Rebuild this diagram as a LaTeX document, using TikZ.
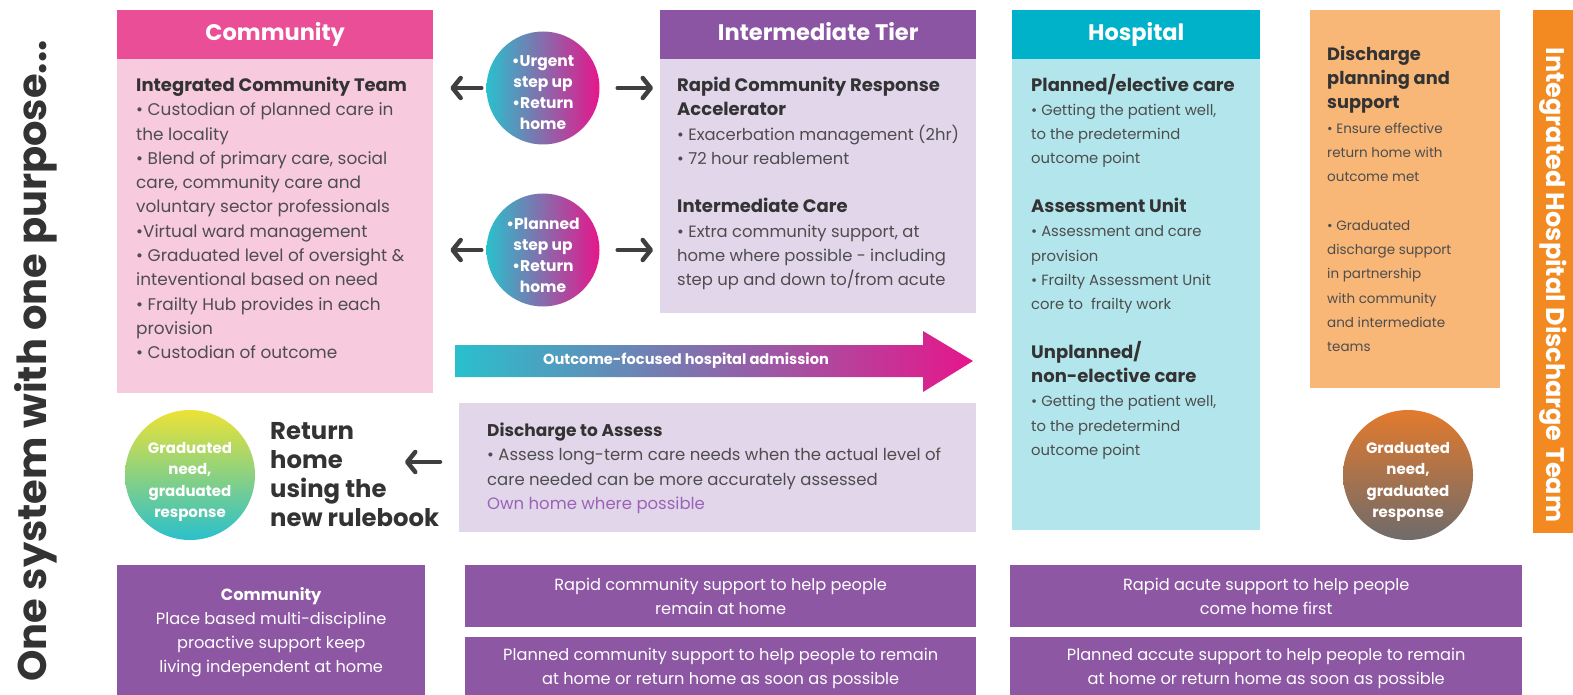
\documentclass[tikz,border=0pt]{standalone}
\usepackage{fontspec}
\setmainfont{Poppins}
\usetikzlibrary{arrows.meta}
\definecolor{pinkH}{HTML}{EA4E96}
\definecolor{pinkB}{HTML}{F7CADD}
\definecolor{purpH}{HTML}{8C55A3}
\definecolor{lavB}{HTML}{E2D6EA}
\definecolor{tealH}{HTML}{00B1CA}
\definecolor{cyanB}{HTML}{B2E6EC}
\definecolor{orangeB}{HTML}{F8B677}
\definecolor{orangeBar}{HTML}{F28A21}
\definecolor{purpBot}{HTML}{8D57A4}
\definecolor{tealG}{HTML}{29C0CC}
\definecolor{magG}{HTML}{E6168B}
\definecolor{yelG}{HTML}{EDE236}
\definecolor{orgG}{HTML}{E37A2D}
\definecolor{midG}{HTML}{A4544B}
\definecolor{grayG}{HTML}{6E6B6B}
\definecolor{txtG}{HTML}{4D4D4D}
\definecolor{txtD}{HTML}{333333}
\definecolor{ownP}{HTML}{9A63B8}
\definecolor{arrowC}{HTML}{3F3F3F}
\newcommand{\tbox}[3]{\parbox[t]{#1}{\raggedright\fontsize{#2}{24.3}\selectfont #3}}
\newcommand{\hd}[1]{{\fontsize{18}{24.3}\selectfont\bfseries\color{txtD}#1}}
\newcommand{\hds}[1]{{\fontsize{17.8}{24.5}\selectfont\bfseries\color{txtD}#1}}
\begin{document}
\begin{tikzpicture}[x=1pt,y=-1pt,
  box/.style={rectangle, anchor=north west, inner sep=0pt, draw=none},
  hdr/.style={box, text=white, text height=16pt, text depth=4pt, font=\fontsize{22.5}{24}\selectfont\bfseries},
  txt/.style={anchor=base west, inner sep=0pt, text=txtG},
  circ/.style={circle, inner sep=0pt},
  ctext/.style={inner sep=0pt, text=white, align=center, font=\fontsize{15.5}{21}\selectfont\bfseries},
  gtext/.style={inner sep=0pt, text=white, align=center, font=\fontsize{15}{21.5}\selectfont\bfseries},
  bot/.style={box, fill=purpBot, text=white, align=center, font=\fontsize{16.2}{24}\selectfont},
  arr/.style={draw=arrowC, line width=4.5pt, line cap=round, line join=round,
    -{Straight Barb[length=8pt,width=20pt,round]}}]
\useasboundingbox (0,0) rectangle (1573,695);

% left title
\node[rotate=90, inner sep=0pt, text=txtD, font=\fontsize{40}{40}\selectfont\bfseries] (title) at (36,361) {One system with one purpose...};

% Community
\node[box, fill=pinkB, minimum width=316pt, minimum height=383pt] (comm) at (117,10) {};
\node[hdr, fill=pinkH, minimum width=316pt, minimum height=49pt] (commh) at (117,10) {Community};
\node[txt] (commt) at (136,77) {\tbox{292pt}{16.9}{\hd{Integrated Community Team}\\
• Custodian of planned care in\\
the locality\\
• Blend of primary care, social\\
care, community care and\\
voluntary sector professionals\\
•Virtual ward management\\
• Graduated level of oversight \&\\
inteventional based on need\\
• Frailty Hub provides in each\\
provision\\
• Custodian of outcome}};

% Intermediate tier
\node[box, fill=lavB, minimum width=316pt, minimum height=303pt] (inter) at (660,10) {};
\node[hdr, fill=purpH, minimum width=316pt, minimum height=49pt] (interh) at (660,10) {Intermediate Tier};
\node[txt] (intert) at (677,77) {\tbox{296pt}{16.4}{\hd{Rapid Community Response}\\
\hd{Accelerator}\\
• Exacerbation management (2hr)\\
• 72 hour reablement\\[24.3pt]
\hd{Intermediate Care}\\
• Extra community support, at\\
home where possible - including\\
step up and down to/from acute}};

% Hospital
\node[box, fill=cyanB, minimum width=248pt, minimum height=520pt] (hosp) at (1012,10) {};
\node[hdr, fill=tealH, minimum width=248pt, minimum height=49pt] (hosph) at (1012,10) {Hospital};
\node[txt] (hospt) at (1031,74) {\tbox{226pt}{14.8}{\hd{Planned/elective care}\\
• Getting the patient well,\\
to the predetermind\\
outcome point\\[24.3pt]
\hd{Assessment Unit}\\
• Assessment and care\\
provision\\
• Frailty Assessment Unit\\
core to\ \ frailty work\\[24.3pt]
\hd{Unplanned/}\\
\hd{non-elective care}\\
• Getting the patient well,\\
to the predetermind\\
outcome point}};

% Discharge planning
\node[box, fill=orangeB, minimum width=190pt, minimum height=378pt] (dplan) at (1310,10) {};
\node[txt] (dplant) at (1327,46) {\tbox{172pt}{13.5}{\hds{Discharge}\\
\hds{planning and}\\
\hds{support}\\
• Ensure effective\\
return home with\\
outcome met\\[24.3pt]
• Graduated\\
discharge support\\
in partnership\\
with community\\
and intermediate\\
teams}};

% Integrated Hospital Discharge Team bar
\node[box, fill=orangeBar, minimum width=45pt, minimum height=523pt] (ihdt) at (1533,10) {};
\node[rotate=-90, inner sep=0pt, text=white, font=\fontsize{25.5}{26}\selectfont\bfseries] (ihdtt) at (1553,285) {Integrated Hospital Discharge Team};

% step circles
\node[circ, minimum size=113pt, left color=tealG, right color=magG] (c1) at (543,88) {};
\node[ctext] (c1t) at (543,93) {•Urgent\\step up\\•Return\\home};
\node[circ, minimum size=113pt, left color=tealG, right color=magG] (c2) at (543,250) {};
\node[ctext] (c2t) at (543,255) {•Planned\\step up\\•Return\\home};

% connectors
\draw[arr, shorten <=5pt, shorten >=17pt] (c1.west) -- (c1.west -| comm.east);
\draw[arr, shorten <=18pt, shorten >=7pt] (c1.east) -- (c1.east -| inter.west);
\draw[arr, shorten <=5pt, shorten >=17pt] (c2.west) -- (c2.west -| comm.east);
\draw[arr, shorten <=18pt, shorten >=7pt] (c2.east) -- (c2.east -| inter.west);

% admission arrow
\shade[left color=tealG, right color=magG] (455,345) -- (923,345) -- (923,331) -- (973,361) -- (923,392) -- (923,377) -- (455,377) -- cycle;
\node[inner sep=0pt, text=white, font=\fontsize{14.6}{16}\selectfont\bfseries] (adm) at (686,361) {Outcome-focused hospital admission};

% Discharge to assess
\node[box, fill=lavB, minimum width=517pt, minimum height=129pt] (d2a) at (459,403) {};
\node[txt] (d2at) at (487,423) {\tbox{485pt}{16.5}{{\fontsize{17}{24.3}\selectfont\bfseries\color{txtD}Discharge to Assess}\\
• Assess long-term care needs when the actual level of\\
care needed can be more accurately assessed\\
{\color{ownP}Own home where possible}}};

% graduated circles
\node[circ, minimum size=130pt, top color=yelG, bottom color=tealG] (g1) at (190,475) {};
\node[gtext] (g1t) at (190,482) {Graduated\\need,\\graduated\\response};
\node[circ, minimum size=130pt, top color=orgG, middle color=midG, bottom color=grayG] (g2) at (1408,475) {};
\node[gtext] (g2t) at (1408,482) {Graduated\\need,\\graduated\\response};

% return home text
\node[txt, text=txtD] (ret) at (270,439) {\parbox[t]{185pt}{\raggedright\fontsize{24.3}{29}\selectfont\bfseries Return\\home\\using the\\new rulebook}};
\coordinate (ra) at (405,462);
\draw[arr, shorten <=19pt] (ra -| d2a.west) -- (ra);

% bottom boxes
\node[bot, minimum width=308pt, minimum height=133pt] (bcomm) at (117,565) {\textbf{Community}\\Place based multi-discipline\\proactive support keep\\living independent at home};
\node[bot, minimum width=511pt, minimum height=62pt] (brc) at (465,565) {Rapid community support to help people\\remain at home};
\node[bot, minimum width=511pt, minimum height=62pt] (bpc) at (465,637) {Planned community support to help people to remain\\at home or return home as soon as possible};
\node[bot, minimum width=512pt, minimum height=62pt] (bra) at (1010,565) {Rapid acute support to help people\\come home first};
\node[bot, minimum width=512pt, minimum height=62pt] (bpa) at (1010,637) {Planned accute support to help people to remain\\at home or return home as soon as possible};
\end{tikzpicture}
\end{document}
